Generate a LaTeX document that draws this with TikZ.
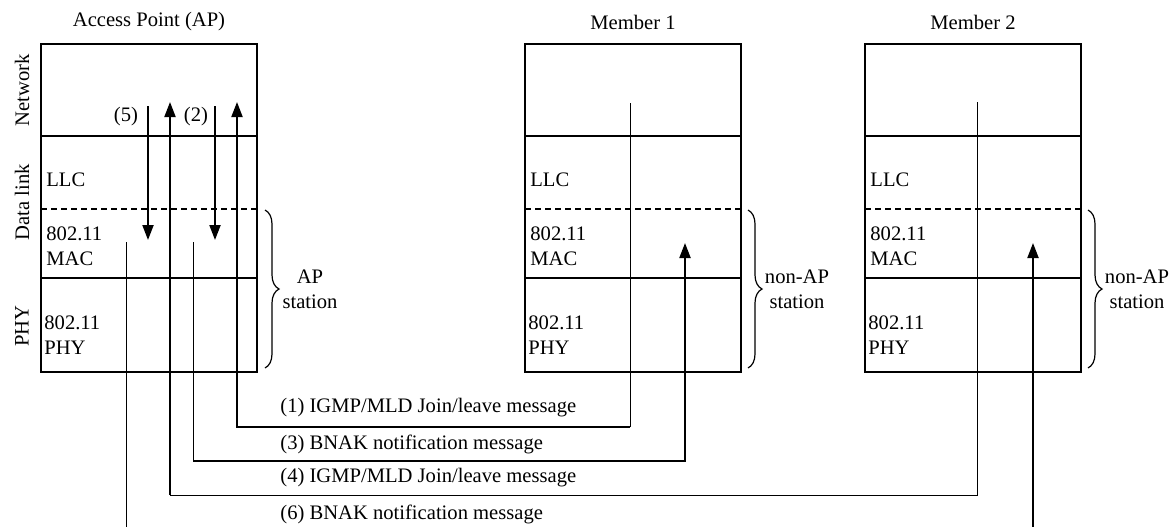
\documentclass[tikz,border=0pt]{standalone}
\usepackage{fontspec}
\setmainfont{Liberation Serif}
\usetikzlibrary{arrows.meta,decorations.pathreplacing}
\tikzset{
  every node/.style={font=\fontsize{10.3}{12.5}\selectfont, inner sep=0pt},
  layerbox/.style={draw=black, line width=0.6pt},
  sublayer/.style={draw=black, line width=0.6pt, dash pattern=on 3pt off 2pt},
  wire/.style={draw=black, line width=0.5pt},
  heavy/.style={draw=black, line width=1pt},
  tip/.style={-{Triangle[length=7.5pt,width=5.5pt]}, heavy},
  stabrace/.style={decorate, decoration={brace, amplitude=7pt}, line width=0.6pt},
}

\begin{document}
\begin{tikzpicture}[x=0.5pt, y=-0.5pt]
  \clip (0,0) rectangle (1176,526);
  % Protocol stacks
  \foreach \stk/\x/\stkname in {ap/41/Access Point (AP), ma/525/Member 1, mb/865/Member 2} {
    \draw[layerbox] (\x,44) rectangle ++(216,328);
    \draw[layerbox] (\x,136) -- ++(216,0);
    \draw[sublayer] (\x,209) -- ++(216,0);
    \draw[layerbox] (\x,278) -- ++(216,0);
    \node (\stk-title) at (\x+108,22) {\stkname};
    \node[anchor=west] (\stk-llc) at (\x+5,180) {LLC};
    \node[anchor=west, align=left] (\stk-mac) at (\x+5,246) {802.11\\MAC};
    \node[anchor=west, align=left] (\stk-phy) at (\x+3,335) {802.11\\PHY};
  }
  % Layer names
  \node[rotate=90] (lay-net) at (22,90) {Network};
  \node[rotate=90] (lay-dl) at (22,202) {Data link};
  \node[rotate=90] (lay-phy) at (22,326) {PHY};
  % Stations
  \draw[stabrace] (265,210) -- (265,368);
  \node[align=center] (ap-role) at (310,289) {AP\\station};
  \draw[stabrace] (748,210) -- (748,368);
  \node[align=center] (ma-role) at (797,289) {non-AP\\station};
  \draw[stabrace] (1088,210) -- (1088,368);
  \node[align=center] (mb-role) at (1137,289) {non-AP\\station};
  % Ends of the message lines
  \coordinate (ap-s5) at (148,106); \coordinate (ap-e5) at (148,240);
  \coordinate (ap-s2) at (215,106); \coordinate (ap-e2) at (215,240);
  \coordinate (ap-r4) at (170,102); \coordinate (ap-r1) at (237,102);
  \coordinate (ap-t6) at (126,242); \coordinate (ap-t3) at (193,242);
  \coordinate (ma-t1) at (630,103); \coordinate (ma-r3) at (685,243);
  \coordinate (mb-t4) at (977,102); \coordinate (mb-r6) at (1033,243);
  \coordinate (ma-b1) at (630,427); \coordinate (ap-b1) at (237,427);
  \coordinate (ap-b3) at (193,461); \coordinate (ma-b3) at (685,461);
  \coordinate (mb-b4) at (977,495); \coordinate (ap-b4) at (170,495);
  \coordinate (ap-b6) at (126,545); \coordinate (mb-b6) at (1033,545);
  % Inside the AP
  \draw[tip] (ap-s5) -- (ap-e5);
  \draw[tip] (ap-s2) -- (ap-e2);
  \node (lbl5) at (126,117) {(5)};
  \node (lbl2) at (196,117) {(2)};
  % (1) join/leave from member 1
  \draw[wire] (ma-t1) -- (ma-b1);
  \draw[tip] (ma-b1) -- (ap-b1) -- (ap-r1);
  \node[anchor=west] (msg1) at (280,408) {(1) IGMP/MLD Join/leave message};
  % (3) BNAK to member 1
  \draw[wire] (ap-t3) -- (ap-b3);
  \draw[tip] (ap-b3) -- (ma-b3) -- (ma-r3);
  \node[anchor=west] (msg3) at (280,444) {(3) BNAK notification message};
  % (4) join/leave from member 2
  \draw[wire] (mb-t4) -- (mb-b4) -- (ap-b4);
  \draw[tip] (ap-b4) -- (ap-r4);
  \node[anchor=west] (msg4) at (280,478) {(4) IGMP/MLD Join/leave message};
  % (6) BNAK to member 2
  \draw[wire] (ap-t6) -- (ap-b6);
  \draw[tip] (ap-b6) -- (mb-b6) -- (mb-r6);
  \node[anchor=west] (msg6) at (280,514) {(6) BNAK notification message};
\end{tikzpicture}
\end{document}
